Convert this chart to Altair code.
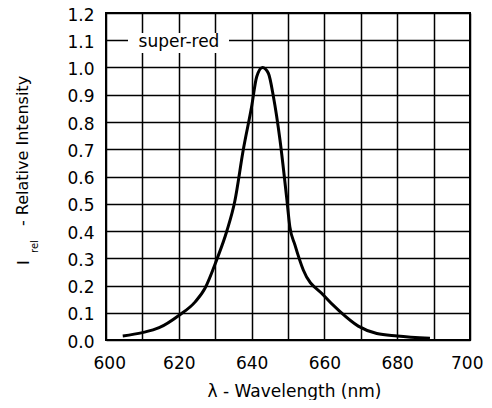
import altair as alt
import pandas as pd

wavelength = [604.6, 610.0, 614.6, 620.0, 624.5, 627.2, 630.4, 633.2, 635.4, 637.7,
              640.0, 641.4, 643.0, 644.6, 646.0, 647.8, 649.6, 650.5, 651.9, 654.2,
              659.7, 664.3, 669.3, 674.4, 680.0, 689.0]
intensity = [0.015, 0.027, 0.045, 0.090, 0.140, 0.190, 0.294, 0.400, 0.510, 0.697,
             0.856, 0.966, 1.000, 0.979, 0.893, 0.734, 0.526, 0.416, 0.349, 0.257,
             0.165, 0.104, 0.051, 0.024, 0.015, 0.006]
x_ticks = [600, 610, 620, 630, 640, 650, 660, 670, 680, 690, 700]
y_ticks = [0.0, 0.1, 0.2, 0.3, 0.4, 0.5, 0.6, 0.7, 0.8, 0.9, 1.0, 1.1, 1.2]
series_name = "super-red"

df = pd.DataFrame({"wl": wavelength, "rel": intensity})
FONT = "DejaVu Sans"

x_enc = alt.X("wl:Q", scale=alt.Scale(domain=[600, 700], nice=False),
              axis=alt.Axis(values=x_ticks, grid=True, gridColor="black", gridWidth=1.5,
                            gridOpacity=1, ticks=False, domain=False,
                            labelExpr="datum.value % 20 == 0 ? datum.label : ''",
                            labelFont=FONT, labelFontSize=17, labelColor="black",
                            labelPadding=15, labelFlush=True, labelFlushOffset=13,
                            title="λ - Wavelength (nm)", titleFont=FONT, titleFontSize=17,
                            titleFontWeight="normal", titleColor="black",
                            titleBaseline="alphabetic", titleX=188, titleY=56))
y_enc = alt.Y("rel:Q", scale=alt.Scale(domain=[0, 1.2], nice=False),
              axis=alt.Axis(values=y_ticks, format=".1f", grid=True, gridColor="black",
                            gridWidth=1.5, gridOpacity=1, ticks=False, domain=False,
                            labelFont=FONT, labelFontSize=17, labelColor="black",
                            labelPadding=12, labelFlush=False, labelOffset=2, title=None))

line = alt.Chart(df).mark_line(color="black", strokeWidth=3, interpolate="monotone").encode(
    x=x_enc, y=y_enc)

leg_df = pd.DataFrame({"name": [series_name]})
box = alt.Chart(leg_df).mark_rect(color="white").encode(
    x=alt.value(22), x2=alt.value(123), y=alt.value(20), y2=alt.value(40))
leg_text = alt.Chart(leg_df).mark_text(font=FONT, fontSize=17, color="black",
                                       align="center", baseline="alphabetic").encode(
    text="name:N", x=alt.value(73), y=alt.value(33.5))

ytitle_df = pd.DataFrame({"a": ["I"], "b": ["rel"], "c": ["- Relative Intensity"]})
t1 = alt.Chart(ytitle_df).mark_text(font=FONT, fontSize=16, color="black", angle=270,
                                    align="left", baseline="alphabetic").encode(
    text="a:N", x=alt.value(-77.5), y=alt.value(252))
t2 = alt.Chart(ytitle_df).mark_text(font=FONT, fontSize=10, color="black", angle=270,
                                    align="left", baseline="alphabetic").encode(
    text="b:N", x=alt.value(-68.5), y=alt.value(240))
t3 = alt.Chart(ytitle_df).mark_text(font=FONT, fontSize=16, color="black", angle=270,
                                    align="left", baseline="alphabetic").encode(
    text="c:N", x=alt.value(-77.7), y=alt.value(213))

chart = alt.layer(line, box, leg_text, t1, t2, t3).properties(
    width=364, height=327,
    autosize=alt.AutoSizeParams(type="none"),
    padding={"left": 98, "top": 5, "right": 14, "bottom": 60},
    background="white",
).configure_view(stroke="black", strokeWidth=2)

chart.save("out.html", embed_options={"renderer": "svg", "actions": False})
